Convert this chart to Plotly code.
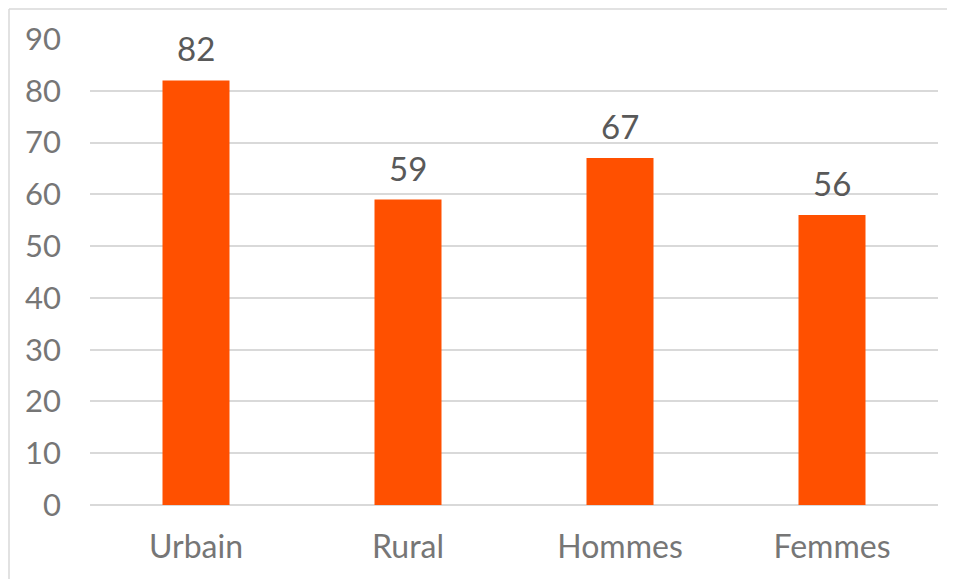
import plotly.graph_objects as go

categories = ["Urbain", "Rural", "Hommes", "Femmes"]
values = [82, 59, 67, 56]
y_ticks = [0, 10, 20, 30, 40, 50, 60, 70, 80, 90]

OFF = 8  # page body offset
W, H = 955 - OFF, 579 - OFF
ml, mt = 90 - OFF, 39 - OFF
pw, ph = 848, 466
mr = W - ml - pw
mb = H - mt - ph

FONT = "Lato, Open Sans, sans-serif"

fig = go.Figure(go.Bar(
    x=categories, y=values,
    marker=dict(color="#FF5000", line=dict(width=0)),
    width=0.316, cliponaxis=False,
))

for c, v in zip(categories, values):
    fig.add_annotation(x=c, y=v, text=str(v), showarrow=False, yanchor="bottom",
                       yshift=10, font=dict(family=FONT, size=33, color="#595959"))

fig.update_layout(
    width=W, height=H,
    margin=dict(l=ml, r=mr, t=mt, b=mb),
    paper_bgcolor="white", plot_bgcolor="white",
    showlegend=False,
    font=dict(family=FONT, color="#767676"),
    xaxis=dict(showgrid=False, showline=False, ticks="", tickfont=dict(size=32, color="#767676"),
               ticklabelstandoff=20),
    yaxis=dict(range=[0, 90], tickvals=y_ticks, showgrid=True, gridcolor="#D9D9D9", gridwidth=1.5,
               zeroline=True, zerolinecolor="#D9D9D9", zerolinewidth=1.5,
               tickfont=dict(size=31, color="#767676"), ticks="", ticklabelstandoff=28),
)

# figure-pixel -> paper coordinates
def fx(px):
    return (px - ml) / pw
def fy(py):
    return 1 - (py - mt) / ph

fig.add_shape(type="line", xref="paper", yref="paper",
              x0=fx(1), x1=fx(W + 10), y0=fy(1), y1=fy(1),
              line=dict(color="#D9D9D9", width=1.5))
fig.add_shape(type="line", xref="paper", yref="paper",
              x0=fx(1), x1=fx(1), y0=fy(1), y1=fy(H + 10),
              line=dict(color="#D9D9D9", width=1.5))

fig.write_html("out.html")
